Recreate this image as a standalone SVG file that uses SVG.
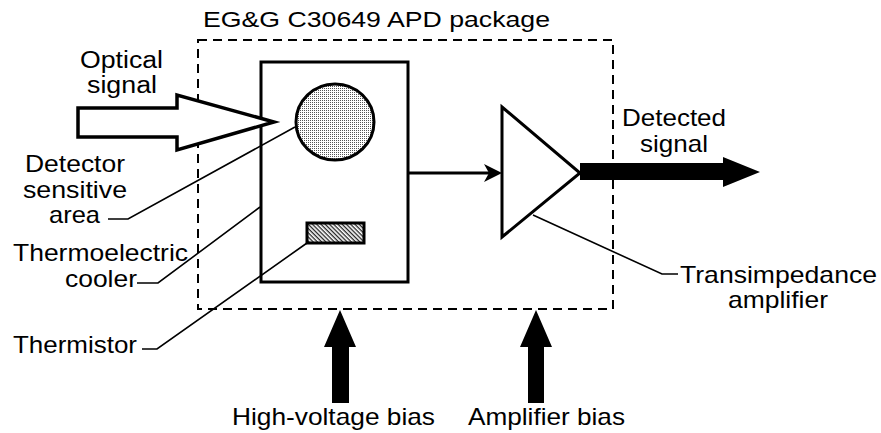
<svg xmlns="http://www.w3.org/2000/svg" width="881" height="433" viewBox="0 0 881 433">
<style>
text{font-family:"Liberation Sans",Arial,sans-serif;font-size:24px;fill:#000}
.lead{fill:none;stroke:#000;stroke-width:1.6}
.thick{fill:none;stroke:#000;stroke-width:3}
.solid{fill:#000;stroke:none}
</style>
<defs>
<pattern id="stip" width="2" height="2" patternUnits="userSpaceOnUse">
<rect width="2" height="2" fill="#fff"/>
<rect width="1" height="1" fill="#555"/>
</pattern>
<pattern id="hatch" width="3" height="3" patternUnits="userSpaceOnUse" patternTransform="rotate(45)">
<rect width="3" height="3" fill="#fff"/>
<rect width="3" height="1.3" fill="#222"/>
</pattern>
</defs>
<rect width="881" height="433" fill="#fff"/>

<g id="package">
<rect x="198" y="40" width="415" height="269" fill="none" stroke="#000" stroke-width="2" stroke-dasharray="9 6"/>
<text x="203" y="27" style="font-size:22px" textLength="347" lengthAdjust="spacingAndGlyphs">EG&amp;G C30649 APD package</text>
</g>

<g id="cooler">
<rect x="261" y="62" width="147" height="220" class="thick"/>
</g>

<g id="detector">
<ellipse cx="335" cy="122" rx="39" ry="38" fill="url(#stip)" stroke="#000" stroke-width="3"/>
</g>

<g id="thermistor">
<rect x="307" y="223" width="57" height="20" fill="url(#hatch)" stroke="#000" stroke-width="3"/>
</g>

<g id="amplifier">
<polygon points="502,107 580,173 502,237" fill="#fff" stroke="#000" stroke-width="3" stroke-linejoin="miter"/>
</g>

<g id="optical">
<polygon points="78,108 177,108 177,95 274,122 177,150 177,137 78,137" fill="#fff" stroke="#000" stroke-width="3.5" stroke-linejoin="miter"/>
<text x="80" y="68" style="font-size:23px" textLength="83" lengthAdjust="spacingAndGlyphs">Optical</text>
<text x="87" y="93" style="font-size:23px" textLength="70" lengthAdjust="spacingAndGlyphs">signal</text>
</g>

<g id="connectors">
<line x1="408" y1="173" x2="490" y2="173" stroke="#000" stroke-width="3"/>
<path d="M502,173 L484,164 L489,173 L484,182 Z" class="solid"/>
<polygon points="580,163 723,163 723,157 760,172 723,187 723,180 580,180" class="solid"/>
<polygon points="340,310 356,347 349,347 349,403 332,403 332,347 324,347" class="solid"/>
<polygon points="536,310 552,347 544,347 544,403 528,403 528,347 520,347" class="solid"/>
<polyline points="108,219 128,219 295,127" class="lead"/>
<polyline points="137,283 158,283 260,207" class="lead"/>
<polyline points="142,349 157,349 307,243" class="lead"/>
<polyline points="533,215 662,274 678,274" class="lead"/>
</g>

<g id="labels">
<text x="25" y="172" textLength="100" lengthAdjust="spacingAndGlyphs">Detector</text>
<text x="23" y="198" textLength="104" lengthAdjust="spacingAndGlyphs">sensitive</text>
<text x="49" y="223" textLength="51" lengthAdjust="spacingAndGlyphs">area</text>
<text x="13" y="261" textLength="175" lengthAdjust="spacingAndGlyphs">Thermoelectric</text>
<text x="65" y="287" textLength="72" lengthAdjust="spacingAndGlyphs">cooler</text>
<text x="13" y="353" textLength="124" lengthAdjust="spacingAndGlyphs">Thermistor</text>
<text x="622" y="126" textLength="104" lengthAdjust="spacingAndGlyphs">Detected</text>
<text x="640" y="152" textLength="68" lengthAdjust="spacingAndGlyphs">signal</text>
<text x="680" y="283" textLength="197" lengthAdjust="spacingAndGlyphs">Transimpedance</text>
<text x="728" y="308" textLength="100" lengthAdjust="spacingAndGlyphs">amplifier</text>
<text x="232" y="425" textLength="203" lengthAdjust="spacingAndGlyphs">High-voltage bias</text>
<text x="468" y="425" textLength="157" lengthAdjust="spacingAndGlyphs">Amplifier bias</text>
</g>
</svg>
